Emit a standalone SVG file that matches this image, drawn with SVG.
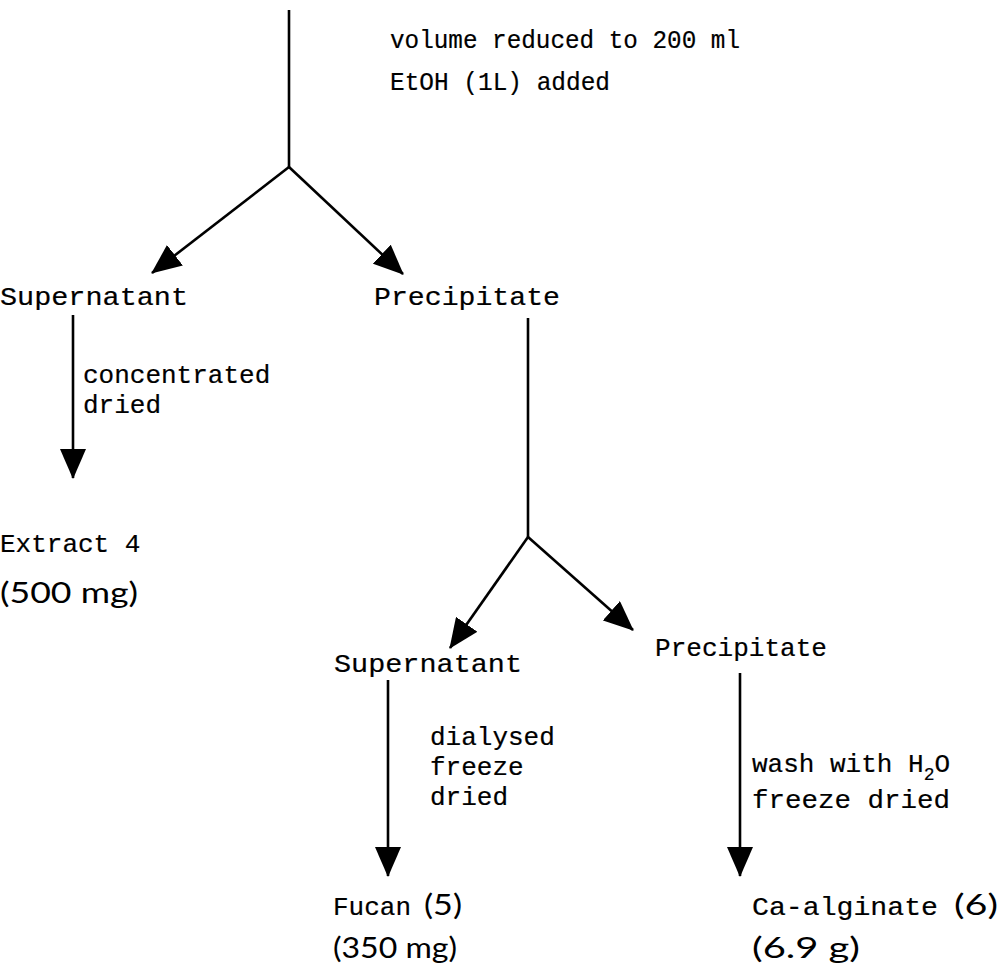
<svg xmlns="http://www.w3.org/2000/svg" width="1003" height="979" viewBox="0 0 1003 979">
<defs>
<marker id="ah" markerUnits="userSpaceOnUse" viewBox="0 0 30 26" markerWidth="30" markerHeight="26" refX="29" refY="13" orient="auto">
<path d="M0,0 L30,13 L0,26 z" fill="#000"/>
</marker>
<style>
.t{font-family:"Liberation Mono","Courier New",monospace;font-size:26px;fill:#000;stroke:#000;stroke-width:0.2}
.p{font-family:"Lato","Noto Sans",sans-serif;font-size:29px;stroke-width:0}
.s{font-size:18px}
.ln{stroke:#000;stroke-width:2.6;fill:none}
.ar{stroke:#000;stroke-width:2.6;fill:none;marker-end:url(#ah)}
</style>
</defs>
<g id="connectors">
<line class="ln" x1="289" y1="10" x2="289" y2="167"/>
<line class="ar" x1="289" y1="167" x2="152" y2="273"/>
<line class="ar" x1="289" y1="167" x2="403" y2="274"/>
<line class="ar" x1="73" y1="315" x2="73" y2="478"/>
<line class="ln" x1="528" y1="318" x2="528" y2="537"/>
<line class="ar" x1="528" y1="537" x2="450" y2="648"/>
<line class="ar" x1="528" y1="537" x2="633" y2="630"/>
<line class="ar" x1="388" y1="680" x2="388" y2="876"/>
<line class="ar" x1="740" y1="673" x2="740" y2="876"/>
</g>
<g id="step1"><text class="t" x="390" y="48" textLength="350" lengthAdjust="spacingAndGlyphs">volume reduced to 200 ml</text><text class="t" x="390" y="90" textLength="220" lengthAdjust="spacingAndGlyphs">EtOH (1L) added</text></g>
<g id="supernatant1"><text class="t" x="0" y="305" textLength="188" lengthAdjust="spacingAndGlyphs">Supernatant</text></g>
<g id="precipitate1"><text class="t" x="374" y="305" textLength="186" lengthAdjust="spacingAndGlyphs">Precipitate</text></g>
<g id="step2"><text class="t" x="83" y="383">concentrated</text><text class="t" x="83" y="413">dried</text></g>
<g id="extract4"><text class="t" x="0" y="552">Extract 4</text><text class="t p" x="0" y="603" textLength="138" lengthAdjust="spacingAndGlyphs">(500 mg)</text></g>
<g id="supernatant2"><text class="t" x="334" y="672" textLength="188" lengthAdjust="spacingAndGlyphs">Supernatant</text></g>
<g id="precipitate2"><text class="t" x="655" y="656" textLength="172" lengthAdjust="spacingAndGlyphs">Precipitate</text></g>
<g id="step3"><text class="t" x="430" y="745">dialysed</text><text class="t" x="430" y="775">freeze</text><text class="t" x="430" y="805">dried</text></g>
<g id="step4"><text class="t" x="752" y="772">wash with H<tspan class="s" dy="8">2</tspan><tspan dy="-8">O</tspan></text><text class="t" x="752" y="808" textLength="198" lengthAdjust="spacingAndGlyphs">freeze dried</text></g>
<g id="fucan"><text class="t" x="333" y="915">Fucan</text><text class="t p" x="424" y="915" textLength="38" lengthAdjust="spacingAndGlyphs">(5)</text><text class="t p" x="333" y="958" textLength="124" lengthAdjust="spacingAndGlyphs">(350 mg)</text></g>
<g id="alginate"><text class="t" x="752" y="915" textLength="186" lengthAdjust="spacingAndGlyphs">Ca-alginate</text><text class="t p" x="954" y="915" textLength="44" lengthAdjust="spacingAndGlyphs">(6)</text><text class="t p" x="752" y="958" textLength="108" lengthAdjust="spacingAndGlyphs">(6.9 g)</text></g>
</svg>
